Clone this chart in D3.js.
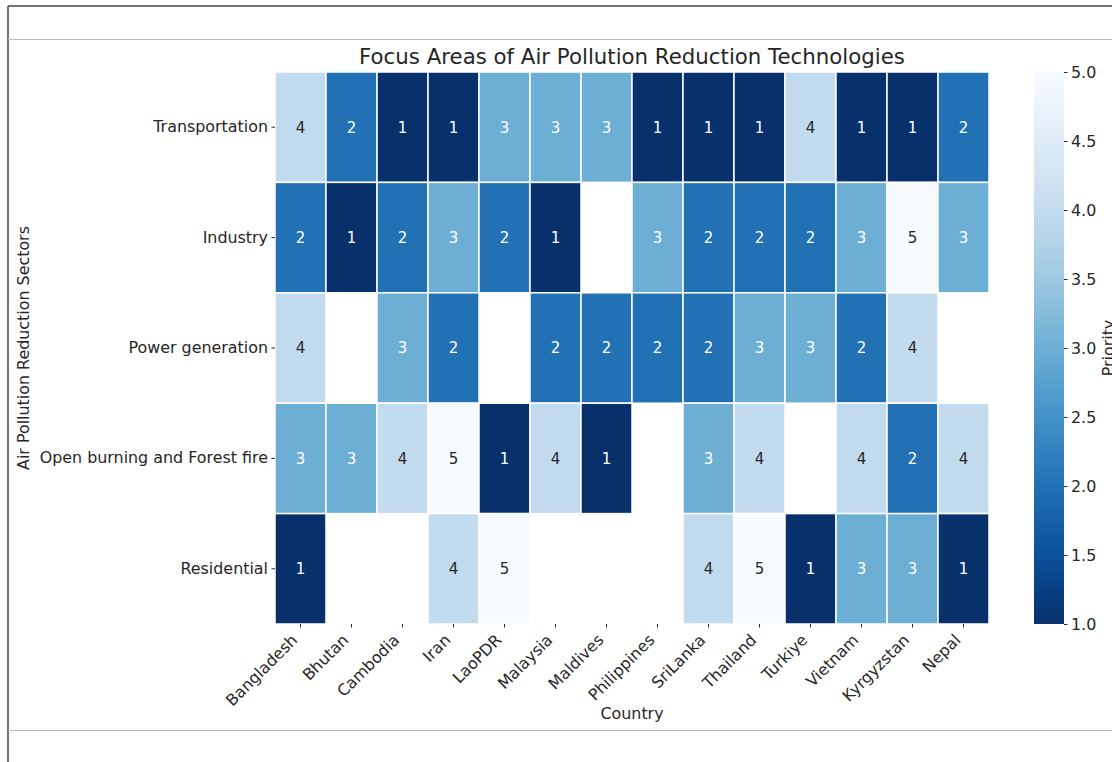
<!DOCTYPE html>
<html><head><meta charset="utf-8">
<script src="https://cdn.jsdelivr.net/npm/d3@7"></script>
<style>body{margin:0;background:#fff;} svg{display:block;font-family:"DejaVu Sans",sans-serif;}</style>
</head><body><svg id="c" width="1112" height="762"></svg>
<script>
const countries = ["Bangladesh","Bhutan","Cambodia","Iran","LaoPDR","Malaysia","Maldives","Philippines","SriLanka","Thailand","Turkiye","Vietnam","Kyrgyzstan","Nepal"];
const sectors = ["Transportation","Industry","Power generation","Open burning and Forest fire","Residential"];
const transportation = [4,2,1,1,3,3,3,1,1,1,4,1,1,2];
const industry       = [2,1,2,3,2,1,null,3,2,2,2,3,5,3];
const powerGeneration= [4,null,3,2,null,2,2,2,2,3,3,2,4,null];
const openBurning    = [3,3,4,5,1,4,1,null,3,4,null,4,2,4];
const residential    = [1,null,null,4,5,null,null,null,4,5,1,3,3,1];
const colorbarTicks  = [1.0,1.5,2.0,2.5,3.0,3.5,4.0,4.5,5.0];
const titleText = "Focus Areas of Air Pollution Reduction Technologies";
const xLabel = "Country", yLabel = "Air Pollution Reduction Sectors", cLabel = "Priority";

const rows = [transportation, industry, powerGeneration, openBurning, residential];
const cells = [];
rows.forEach((r,i)=>r.forEach((v,j)=>{ if(v!==null) cells.push({s:sectors[i], c:countries[j], v}); }));

const svg = d3.select("#c");
const TXT = "#262626";
const FS = 15.9;

// frame lines of the screenshot
svg.append("line").attr("x1",8).attr("x2",1112).attr("y1",6).attr("y2",6).attr("stroke","#444").attr("stroke-width",1.5);
svg.append("line").attr("x1",8).attr("x2",8).attr("y1",6).attr("y2",762).attr("stroke","#444").attr("stroke-width",1.5);
svg.append("line").attr("x1",8).attr("x2",1112).attr("y1",39.5).attr("y2",39.5).attr("stroke","#bbb").attr("stroke-width",1);
svg.append("line").attr("x1",8).attr("x2",1112).attr("y1",730.5).attr("y2",730.5).attr("stroke","#bbb").attr("stroke-width",1);

const x = d3.scaleBand().domain(countries).range([275, 989]);
const y = d3.scaleBand().domain(sectors).range([72, 624]);
const color = d3.scaleSequential(d3.interpolateBlues).domain([5,1]);

// cells
svg.append("g").selectAll("rect").data(cells).join("rect")
  .attr("x",d=>x(d.c)).attr("y",d=>y(d.s))
  .attr("width",x.bandwidth()).attr("height",y.bandwidth())
  .attr("fill",d=>color(d.v)).attr("stroke","#fff").attr("stroke-width",1.5);

svg.append("g").selectAll("text").data(cells).join("text")
  .attr("x",d=>x(d.c)+x.bandwidth()/2).attr("y",d=>y(d.s)+y.bandwidth()/2)
  .attr("dy","0.36em").attr("text-anchor","middle")
  .attr("font-size",15)
  .attr("fill",d=>d.v>=4?TXT:"#ffffff")
  .text(d=>d.v);

// axes
const gx = svg.append("g").attr("transform","translate(0,624)")
  .call(d3.axisBottom(x).tickSize(3.5));
gx.select(".domain").remove();
gx.selectAll(".tick line").attr("stroke",TXT);
gx.selectAll(".tick text").attr("x",0).attr("y",0).attr("dy",null)
  .attr("text-anchor","end").attr("transform","translate(-2,17) rotate(-45)")
  .attr("font-size",FS).attr("fill",TXT).attr("font-family","DejaVu Sans");

const gy = svg.append("g").attr("transform","translate(275,0)")
  .call(d3.axisLeft(y).tickSize(3.5).tickPadding(3.5));
gy.select(".domain").remove();
gy.selectAll(".tick line").attr("stroke",TXT);
gy.selectAll(".tick text").attr("font-size",FS).attr("fill",TXT).attr("font-family","DejaVu Sans");

// title and labels
svg.append("text").attr("x",632).attr("y",64).attr("text-anchor","middle")
  .attr("font-size",21.3).attr("fill",TXT).text(titleText);
svg.append("text").attr("x",632).attr("y",719).attr("text-anchor","middle")
  .attr("font-size",FS).attr("fill",TXT).text(xLabel);
svg.append("text").attr("transform","translate(29,348) rotate(-90)").attr("text-anchor","middle")
  .attr("font-size",FS).attr("fill",TXT).text(yLabel);

// colorbar
const cy = d3.scaleLinear().domain([1,5]).range([624,72]);
const defs = svg.append("defs");
const grad = defs.append("linearGradient").attr("id","cbg").attr("x1",0).attr("x2",0).attr("y1",1).attr("y2",0);
d3.range(0,1.0001,0.05).forEach(t=>grad.append("stop").attr("offset",t).attr("stop-color",color(1+4*t)));
svg.append("rect").attr("x",1034).attr("y",72).attr("width",30).attr("height",552).attr("fill","url(#cbg)");
const gc = svg.append("g").attr("transform","translate(1064,0)")
  .call(d3.axisRight(cy).tickValues(colorbarTicks).tickFormat(d3.format(".1f")).tickSize(3.5).tickPadding(3.5));
gc.select(".domain").remove();
gc.selectAll(".tick line").attr("stroke",TXT);
gc.selectAll(".tick text").attr("font-size",FS).attr("fill",TXT).attr("font-family","DejaVu Sans");
svg.append("text").attr("transform","translate(1114,348) rotate(-90)").attr("text-anchor","middle")
  .attr("font-size",FS).attr("fill",TXT).text(cLabel);
</script></body></html>
